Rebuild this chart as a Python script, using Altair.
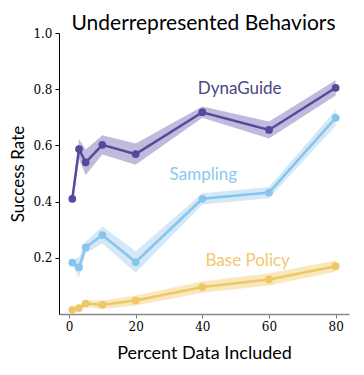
import altair as alt
import pandas as pd

title_text = ["Underrepresented Behaviors"]

pct = [1, 3, 5, 10, 20, 40, 60, 80]

dyna = [0.41, 0.587, 0.54, 0.602, 0.569, 0.718, 0.655, 0.805]
dyna_err = [0.01, 0.035, 0.045, 0.034, 0.038, 0.02, 0.03, 0.027]

samp = [0.183, 0.166, 0.237, 0.281, 0.185, 0.41, 0.432, 0.698]
samp_err = [0.01, 0.036, 0.02, 0.03, 0.038, 0.02, 0.02, 0.028]

base = [0.015, 0.021, 0.037, 0.033, 0.048, 0.096, 0.123, 0.17]
base_err = [0.005, 0.008, 0.012, 0.015, 0.018, 0.02, 0.022, 0.02]

series_names = ["DynaGuide", "Sampling", "Base Policy"]
line_colors = ["#544a9c", "#86c5ec", "#eec868"]
band_colors = ["#b9b2d9", "#cfe6f6", "#f8e5b5"]
label_colors = ["#4a4585", "#8cc8ec", "#f0c870"]
label_x = [51.2, 40.3, 53.6]
label_y = [0.80, 0.494, 0.188]

rows = []
for name, vals, errs in zip(series_names, [dyna, samp, base], [dyna_err, samp_err, base_err]):
    for p, v, e in zip(pct, vals, errs):
        rows.append({"series": name, "pct": p, "rate": v, "lo": v - e, "hi": v + e})
df = pd.DataFrame(rows)
labels_df = pd.DataFrame({"series": series_names, "x": label_x, "y": label_y})
title_df = pd.DataFrame({"t": title_text})

xscale = alt.Scale(domain=[-3, 84], nice=False, zero=False)
yscale = alt.Scale(domain=[0, 1], nice=False)

x_axis = alt.Axis(
    title="Percent Data Included", values=[0, 20, 40, 60, 80], grid=False,
    domainColor="#888888", domainWidth=1.5, tickColor="#777777", tickSize=4,
    labelFont="DejaVu Serif", labelFontSize=12, labelColor="#000000", labelPadding=3,
    titleFont="Lato", titleFontSize=18, titleFontWeight="normal", titleColor="#000000",
    titlePadding=12,
)
y_axis = alt.Axis(
    title="Success Rate", values=[0.2, 0.4, 0.6, 0.8, 1.0], format=".1f", grid=False,
    domainColor="#000000", domainWidth=1, tickColor="#000000", tickSize=4,
    labelFont="DejaVu Serif", labelFontSize=12, labelColor="#000000", labelPadding=3,
    titleFont="Lato", titleFontSize=17, titleFontWeight="normal", titleColor="#000000",
    titlePadding=5,
)

color_scale = alt.Scale(domain=series_names, range=line_colors)
band_scale = alt.Scale(domain=series_names, range=band_colors)
label_scale = alt.Scale(domain=series_names, range=label_colors)

base_chart = alt.Chart(df)

band = base_chart.mark_area(opacity=0.9).encode(
    x=alt.X("pct:Q", scale=xscale, axis=x_axis),
    y=alt.Y("lo:Q", scale=yscale, axis=y_axis),
    y2="hi:Q",
    color=alt.Color("series:N", scale=band_scale, legend=None),
    detail="series:N",
)

line = base_chart.mark_line(strokeWidth=2.5).encode(
    x=alt.X("pct:Q", scale=xscale),
    y=alt.Y("rate:Q", scale=yscale),
    color=alt.Color("series:N", scale=color_scale, legend=None),
)

points = base_chart.mark_circle(size=60, opacity=1).encode(
    x=alt.X("pct:Q", scale=xscale),
    y=alt.Y("rate:Q", scale=yscale),
    color=alt.Color("series:N", scale=color_scale, legend=None),
)

text = alt.Chart(labels_df).mark_text(font="Lato", fontSize=17, baseline="middle", align="center").encode(
    x=alt.X("x:Q", scale=xscale),
    y=alt.Y("y:Q", scale=yscale),
    text="series:N",
    color=alt.Color("series:N", scale=label_scale, legend=None),
)

title = alt.Chart(title_df).mark_text(
    font="Lato", fontSize=21, baseline="alphabetic", align="center", color="#000000"
).encode(
    x=alt.value(144.5),
    y=alt.value(-3),
    text="t:N",
)

chart = alt.layer(band, line, points, text, title).resolve_scale(color="independent").properties(
    width=290,
    height=281,
    autosize=alt.AutoSizeParams(type="none"),
    padding={"left": 51, "top": 25, "right": 7, "bottom": 53},
).configure_view(stroke=None)

chart.save("out.html", embed_options={"renderer": "svg", "actions": False})
